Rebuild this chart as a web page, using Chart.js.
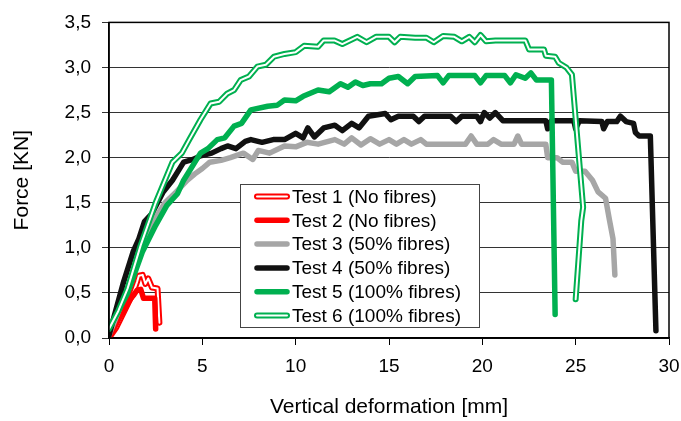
<!DOCTYPE html>
<html>
<head>
<meta charset="utf-8">
<script src="https://cdn.jsdelivr.net/npm/chart.js@4.4.1/dist/chart.umd.min.js"></script>
<style>
  html, body { margin: 0; padding: 0; background: #fff; }
  #wrap { width: 681px; height: 421px; }
</style>
</head>
<body>
<div id="wrap"><canvas id="forceChart"></canvas></div>
<script>
const labels = ['Test 1 (No fibres)', 'Test 2 (No fibres)', 'Test 3 (50% fibres)',
                'Test 4 (50% fibres)', 'Test 5 (100% fibres)', 'Test 6 (100% fibres)'];
const colors = ['#ff0000', '#ff0000', '#a6a6a6', '#111111', '#00b050', '#00b050'];
const hollow = [true, false, false, false, false, true];

const xTicks = [0, 5, 10, 15, 20, 25, 30];
const yTicks = [0, 0.5, 1, 1.5, 2, 2.5, 3, 3.5];

// [deformation mm, force kN]
const test1 = [[0,0],[0.4,0.12],[0.9,0.33],[1.3,0.5],[1.5,0.62],[1.6,0.69],[1.8,0.7],[1.95,0.6],
  [2.1,0.66],[2.3,0.56],[2.6,0.55],[2.7,0.17]];
const test2 = [[0,0],[0.5,0.2],[1.1,0.42],[1.3,0.47],[1.5,0.53],[1.7,0.54],[1.85,0.44],[2.45,0.44],[2.5,0.1]];
const test3 = [[0,0.03],[0.8,0.45],[1.6,0.9],[2.4,1.3],[3.0,1.5],[3.6,1.62],[4.2,1.75],[4.6,1.82],[5.0,1.88],
  [5.4,1.95],[6.0,1.97],[6.5,2.0],[7.2,2.05],[7.7,1.98],[8.0,2.08],[8.6,2.05],[9.4,2.13],[10.0,2.12],
  [10.6,2.17],[11.2,2.15],[12.1,2.2],[12.6,2.15],[13.0,2.22],[13.5,2.14],[14.0,2.21],[14.5,2.15],[15.0,2.2],
  [15.4,2.15],[15.8,2.2],[16.2,2.15],[16.7,2.2],[17.0,2.15],[19.1,2.15],[19.4,2.24],[19.7,2.15],[20.3,2.15],
  [20.6,2.2],[21.0,2.15],[21.7,2.15],[21.9,2.24],[22.1,2.15],[23.4,2.15],[23.5,2.0],[24.0,2.0],[24.3,1.95],
  [24.8,1.95],[25.0,1.85],[25.5,1.85],[25.9,1.75],[26.2,1.62],[26.6,1.55],[26.8,1.32],[27.0,1.1],[27.1,0.7]];
const test4 = [[0,0.03],[0.75,0.6],[1.3,0.96],[1.6,1.1],[1.9,1.29],[2.3,1.38],[2.6,1.5],[2.9,1.62],[3.4,1.75],
  [4.0,1.95],[4.5,1.98],[4.9,2.02],[5.5,2.05],[6.0,2.1],[6.35,2.13],[6.8,2.1],[7.3,2.18],[7.6,2.2],[8.2,2.17],
  [8.8,2.2],[9.4,2.2],[10.0,2.27],[10.4,2.22],[10.65,2.33],[11.0,2.23],[11.5,2.33],[12.1,2.36],[12.5,2.3],
  [13.0,2.38],[13.4,2.33],[13.9,2.46],[14.8,2.49],[15.1,2.42],[15.5,2.46],[16.3,2.46],[16.6,2.4],[16.9,2.46],
  [18.3,2.46],[18.6,2.4],[18.9,2.46],[19.7,2.46],[19.9,2.4],[20.1,2.5],[20.4,2.44],[20.7,2.5],[21.1,2.41],
  [23.4,2.41],[23.5,2.32],[23.7,2.41],[24.9,2.41],[25.0,2.32],[25.2,2.41],[26.4,2.4],[26.5,2.32],[26.7,2.4],
  [27.2,2.4],[27.4,2.46],[27.7,2.4],[28.1,2.38],[28.2,2.28],[28.4,2.24],[29.0,2.24],[29.3,0.08]];
const test5 = [[0,0.1],[0.5,0.3],[1.0,0.5],[1.8,0.96],[2.5,1.25],[3.1,1.47],[3.67,1.6],[4.0,1.75],[4.3,1.85],
  [4.9,2.05],[5.3,2.1],[5.8,2.2],[6.2,2.22],[6.7,2.35],[7.1,2.38],[7.6,2.53],[8.5,2.57],[9.0,2.58],[9.4,2.64],
  [10.0,2.63],[10.4,2.68],[11.2,2.75],[11.8,2.73],[12.4,2.82],[12.8,2.78],[13.2,2.84],[13.6,2.8],[14.0,2.82],
  [14.6,2.82],[15.0,2.88],[15.5,2.9],[16.0,2.82],[16.4,2.9],[17.6,2.91],[17.9,2.83],[18.2,2.91],[19.6,2.91],
  [19.9,2.83],[20.2,2.91],[21.2,2.91],[21.5,2.83],[21.8,2.92],[22.3,2.88],[22.6,2.94],[22.9,2.86],[23.7,2.86],
  [23.9,0.26]];
const test6 = [[0,0.1],[0.5,0.3],[1.0,0.55],[1.7,1.03],[2.5,1.5],[3.0,1.75],[3.4,1.95],[3.9,2.05],[4.3,2.2],
  [4.9,2.42],[5.44,2.6],[5.9,2.62],[6.33,2.71],[6.7,2.75],[7.05,2.86],[7.5,2.9],[7.95,3.01],[8.4,3.03],
  [8.84,3.12],[9.4,3.15],[10.0,3.17],[10.45,3.24],[11.2,3.23],[11.5,3.3],[12.07,3.3],[12.5,3.26],[13.3,3.34],
  [13.8,3.28],[14.3,3.34],[15.0,3.34],[15.3,3.28],[15.6,3.34],[16.4,3.33],[17.0,3.33],[17.4,3.28],[17.9,3.35],
  [18.5,3.34],[18.9,3.29],[19.3,3.34],[19.6,3.28],[19.9,3.36],[20.2,3.29],[20.7,3.3],[22.3,3.3],[22.5,3.2],
  [23.3,3.2],[23.4,3.13],[23.9,3.12],[24.1,3.05],[24.5,3.0],[24.8,2.92],[25.4,1.45],[25.3,1.3],[25.0,0.43]];

const series = [test1, test2, test3, test4, test5, test6];

const FONT = "'Liberation Sans', Arial, sans-serif";
const fmt = v => v.toFixed(1).replace('.', ',');

// build datasets; hollow tests get a coloured outer line plus a thin white core
const datasets = [];
series.forEach(function(s, i) {
    const pts = s.map(p => ({x: p[0], y: p[1]}));
    datasets.push({
        label: labels[i], data: pts, showLine: true, pointRadius: 0,
        borderColor: colors[i], borderWidth: hollow[i] ? 6 : 5.5,
        borderJoinStyle: 'round', borderCapStyle: 'round',
        order: 20 - i * 2
    });
    if (hollow[i]) {
        datasets.push({
            label: '', core: true, data: pts, showLine: true, pointRadius: 0,
            borderColor: '#ffffff', borderWidth: 2,
            borderJoinStyle: 'round', borderCapStyle: 'round',
            order: 19 - i * 2
        });
    }
});

const frame = {
    id: 'frame',
    afterDraw(chart) {
        const {ctx, chartArea: a} = chart;
        ctx.save();
        ctx.strokeStyle = '#000';
        ctx.lineWidth = 1.5;
        ctx.strokeRect(a.left, a.top, a.right - a.left, a.bottom - a.top);

        // legend box inside the plot
        const bx = 240, by = 184, bw = 239, bh = 143, row = 23.8;
        ctx.fillStyle = '#fff';
        ctx.fillRect(bx, by, bw, bh);
        ctx.strokeStyle = '#444';
        ctx.lineWidth = 1;
        ctx.strokeRect(bx + 0.5, by + 0.5, bw, bh);
        ctx.font = '19px ' + FONT;
        ctx.textBaseline = 'middle';
        ctx.lineCap = 'round';
        labels.forEach(function(t, i) {
            const cy = by + 12.5 + i * row;
            ctx.beginPath();
            ctx.moveTo(257, cy); ctx.lineTo(287, cy);
            ctx.strokeStyle = colors[i];
            ctx.lineWidth = hollow[i] ? 6 : 5.5;
            ctx.stroke();
            if (hollow[i]) {
                ctx.strokeStyle = '#fff';
                ctx.lineWidth = 2;
                ctx.stroke();
            }
            ctx.fillStyle = '#000';
            ctx.fillText(t, 292, cy + 1);
        });
        ctx.restore();
    }
};

new Chart(document.getElementById('forceChart'), {
    type: 'scatter',
    data: { datasets: datasets },
    plugins: [frame],
    options: {
        responsive: true,
        maintainAspectRatio: false,
        animation: false,
        layout: { padding: { top: 17, right: 12 } },
        plugins: { legend: { display: false }, tooltip: { enabled: false } },
        scales: {
            x: {
                type: 'linear', min: 0, max: 30,
                afterBuildTicks: s => { s.ticks = xTicks.map(v => ({value: v})); },
                afterFit: s => { s.height = 83; s.paddingRight = 4; },
                grid: { drawOnChartArea: false, color: '#000', tickLength: 7, lineWidth: 1 },
                border: { color: '#000', width: 1.5 },
                ticks: { color: '#000', padding: 10, font: { family: FONT, size: 19 }, maxRotation: 0 },
                title: { display: true, text: 'Vertical deformation [mm]', color: '#000',
                         font: { family: FONT, size: 21 }, padding: { bottom: 1 } }
            },
            y: {
                min: 0, max: 3.5,
                afterBuildTicks: s => { s.ticks = yTicks.map(v => ({value: v})); },
                afterFit: s => { s.width = 109; },
                grid: { color: '#333', tickLength: 7, lineWidth: 1 },
                border: { color: '#000', width: 1.5 },
                ticks: { color: '#000', padding: 11, font: { family: FONT, size: 19 },
                         callback: v => fmt(v) },
                title: { display: true, text: 'Force [KN]', color: '#000',
                         font: { family: FONT, size: 21 }, padding: { top: 10 } }
            }
        }
    }
});
</script>
</body>
</html>
